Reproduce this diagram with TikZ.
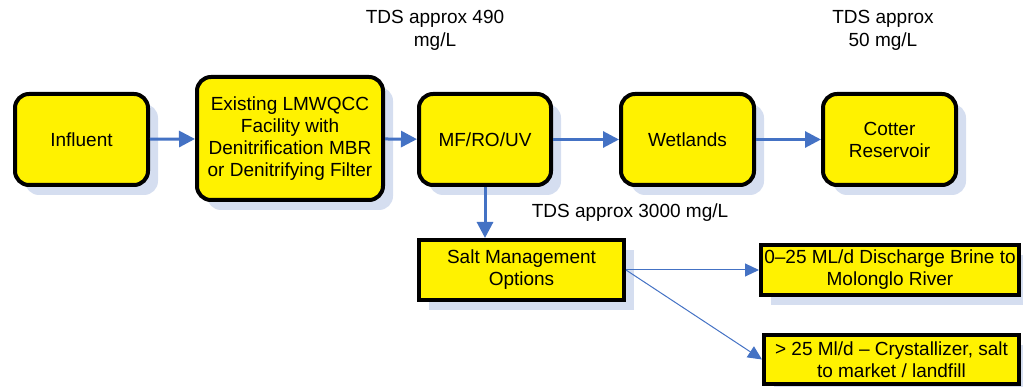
\documentclass[tikz,border=0pt]{standalone}
\usepackage{fontspec}
\setmainfont{Liberation Sans}
\usetikzlibrary{arrows.meta,shadows}
\definecolor{flowblue}{RGB}{68,114,196}
\definecolor{shade}{RGB}{213,222,240}
\begin{document}
\begin{tikzpicture}[x=1pt,y=-1pt,font={\fontsize{19}{22}\selectfont},
    proc/.style={draw,line width=4pt,fill=yellow,rounded corners=14pt,align=center,inner sep=0pt,
      minimum width=133pt,minimum height=91pt,
      drop shadow={shadow xshift=10pt,shadow yshift=-10pt,fill=shade,opacity=1}},
    opt/.style={draw,line width=4pt,fill=yellow,align=center,inner sep=0pt,
      drop shadow={shadow xshift=10pt,shadow yshift=-10pt,fill=shade,opacity=1}},
    flow/.style={flowblue,line width=3pt,-{Triangle[length=16pt,width=16pt]}},
    branch/.style={flowblue,line width=1pt,-{Triangle[length=14pt,width=13pt]}}]
    \useasboundingbox (0,0) rectangle (1023,387);
    % main train
    \node[proc] (infl) at (81.5,139.5) {Influent};
    \node[proc,minimum width=186pt,minimum height=123pt] (exist) at (290,138.5)
        {Existing LMWQCC\\Facility with\\Denitrification MBR\\or Denitrifying Filter};
    \node[proc,minimum width=132pt] (mf) at (485,139.5) {MF/RO/UV};
    \node[proc] (wet) at (687.5,139.5) {Wetlands};
    \node[proc] (cot) at (889.5,139.5) {Cotter\\Reservoir};
    \draw[flow] (infl) -- (exist);
    \draw[flow] (exist) -- (mf);
    \draw[flow] (mf) -- (wet);
    \draw[flow] (wet) -- (cot);
    % salt options
    \node[opt,minimum width=205pt,minimum height=60pt] (salt) at (521.5,270) {Salt Management\\Options};
    \node[opt,minimum width=258pt,minimum height=50pt] (dis) at (890,270) {0–25 ML/d Discharge Brine to\\Molonglo River};
    \node[opt,minimum width=255pt,minimum height=49pt] (cry) at (891.5,359.5) {> 25 Ml/d – Crystallizer, salt\\to market / landfill};
    \draw[flow] (mf.south) -- (mf.south |- salt.north);
    \draw[branch] (salt.east) -- (dis.west);
    \draw[branch] (salt.east) -- (cry.west);
    % TDS notes
    \node[align=center,font={\fontsize{19}{23}\selectfont}] (tds490) at (435,30) {TDS approx 490\\mg/L};
    \node[align=center,font={\fontsize{19}{23}\selectfont}] (tds50) at (883,30) {TDS approx\\50 mg/L};
    \node (tds3000) at (630,213) {TDS approx 3000 mg/L};
\end{tikzpicture}
\end{document}
